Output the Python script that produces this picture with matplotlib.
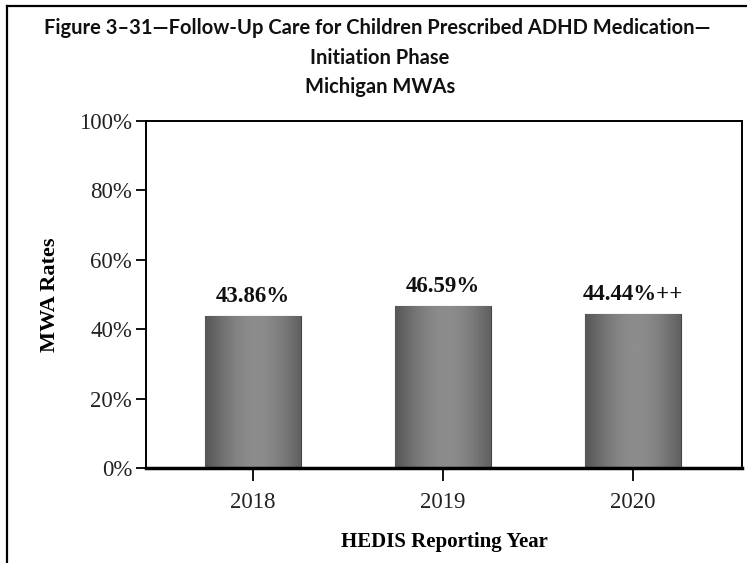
import numpy as np
import matplotlib
matplotlib.use('Agg')
import matplotlib.pyplot as plt
from matplotlib.lines import Line2D

years = ['2018', '2019', '2020']
rates = [43.86, 46.59, 44.44]
bar_labels = ['43.86%', '46.59%', '44.44%++']
y_ticks = [0, 20, 40, 60, 80, 100]

W, H = 747, 563

def px(x, y):
    # pixel coords (from top-left) -> figure fraction
    return x / W, 1 - y / H

def shade_bars(ax, bars):
    # cylinder-ish gray gradient: darker at the edges, lighter in the middle
    t = np.linspace(0, 1, 200)
    g = 0.28 + 0.27 * np.sin(np.pi * (0.1 + 0.75 * t)) ** 1.3
    img = np.tile(g, (2, 1))
    for b in bars:
        x0, y0 = b.get_x(), b.get_y()
        w, h = b.get_width(), b.get_height()
        im = ax.imshow(img, cmap='gray', vmin=0, vmax=1, aspect='auto',
                       extent=(x0, x0 + w, y0, y0 + h), zorder=2,
                       interpolation='bilinear')
        im.set_clip_path(b)


def main():
    fig = plt.figure(figsize=(W / 100, H / 100), dpi=100)
    l, b = px(146, 468)
    r, t = px(742, 121)
    ax = fig.add_axes([l, b, r - l, t - b])

    x = np.arange(len(years))
    bars = ax.bar(x, rates, width=0.505, color='#5e5e5e', edgecolor='#444444',
                  linewidth=0.8, zorder=1)
    shade_bars(ax, bars)

    for xi, v, lab in zip(x, rates, bar_labels):
        ax.text(xi, v + 2.6, lab, ha='center', va='bottom', fontsize=16.5,
                fontweight='bold', family='Liberation Serif', color='#111111')

    ax.set_xlim(-0.563, 2.573)
    ax.set_ylim(0, 100)
    ax.set_yticks(y_ticks)
    ax.set_yticklabels([f'{v}%' for v in y_ticks], family='Liberation Serif',
                       fontsize=16.5, color='#222222')
    ax.set_xticks(x)
    ax.set_xticklabels(years, family='Liberation Serif', fontsize=16.5, color='#222222')
    ax.tick_params(axis='y', length=7, width=1.3, pad=3)
    ax.tick_params(axis='x', length=9, width=1.3, pad=8, direction='out')

    for s in ['left', 'top', 'right']:
        ax.spines[s].set_linewidth(1.4)
    ax.spines['bottom'].set_linewidth(2.5)

    ax.set_ylabel('MWA Rates', family='Liberation Serif', fontsize=16,
                  fontweight='bold', labelpad=14)
    ax.set_xlabel('HEDIS Reporting Year', family='Liberation Serif', fontsize=15,
                  fontweight='bold', labelpad=14)

    title_font = dict(family='Lato', fontsize=14.5, fontweight='bold',
                      ha='center', va='center', color='#111111')
    fig.text(*px(377, 28), 'Figure 3\u201331\u2014Follow-Up Care for Children Prescribed ADHD Medication\u2014',
             **title_font)
    fig.text(*px(380, 58), 'Initiation Phase', **title_font)
    fig.text(*px(380, 87), 'Michigan MWAs', **title_font)

    # outer frame of the figure (left and top edges)
    fig.add_artist(Line2D([7 / W, 7 / W], [0, 1 - 6 / H], transform=fig.transFigure,
                          color='black', linewidth=1.6))
    fig.add_artist(Line2D([7 / W, 1], [1 - 6 / H, 1 - 6 / H], transform=fig.transFigure,
                          color='black', linewidth=1.6))

    fig.savefig('out.png', dpi=100)


if __name__ == "__main__":
    main()
